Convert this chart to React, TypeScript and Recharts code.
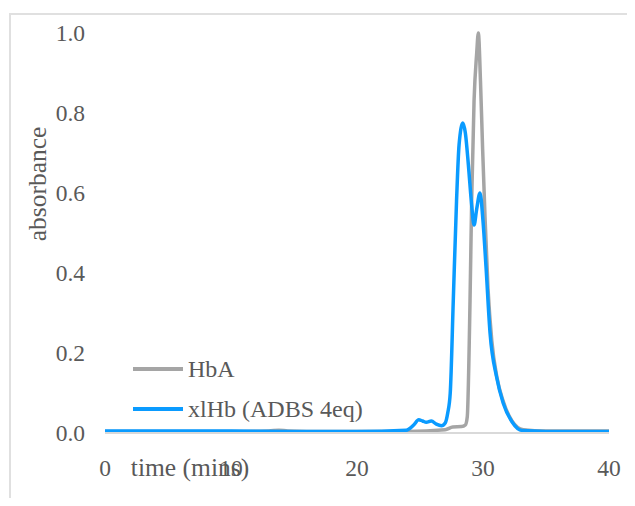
import React from 'react';
import { LineChart, Line, XAxis, YAxis, Legend } from 'recharts';

// Data
const hbaTime = [0, 5, 10, 13, 13.8, 14.5, 16, 20, 24, 27, 27.6, 28.3, 28.6, 28.75, 28.97, 29.1, 29.29, 29.5, 29.63, 29.8, 29.97, 30.16, 30.4, 30.7, 31.1, 31.6, 32.3, 33.2, 35, 40];
const hbaAbs = [0.004, 0.004, 0.004, 0.005, 0.007, 0.005, 0.004, 0.004, 0.004, 0.008, 0.015, 0.016, 0.02, 0.04, 0.33, 0.58, 0.83, 0.95, 1.0, 0.88, 0.71, 0.54, 0.36, 0.23, 0.14, 0.08, 0.03, 0.008, 0.005, 0.005];

const xlhbTime = [0, 5, 10, 15, 20, 23.9, 24.5, 24.9, 25.2, 25.5, 25.9, 26.3, 26.7, 27.0, 27.2, 27.4, 27.64, 27.9, 28.1, 28.4, 28.6, 28.84, 29.1, 29.29, 29.5, 29.76, 30.0, 30.24, 30.56, 31.08, 31.6, 32.3, 33.1, 35, 40];
const xlhbAbs = [0.005, 0.005, 0.005, 0.004, 0.004, 0.007, 0.02, 0.033, 0.03, 0.027, 0.03, 0.022, 0.018, 0.025, 0.05, 0.1, 0.33, 0.58, 0.72, 0.775, 0.75, 0.67, 0.57, 0.52, 0.56, 0.6, 0.53, 0.415, 0.25, 0.14, 0.075, 0.028, 0.006, 0.004, 0.004];

const xTicks = [0, 10, 20, 30, 40];
const yTicks = [0, 0.2, 0.4, 0.6, 0.8, 1.0];

const seriesNames = ['HbA', 'xlHb (ADBS 4eq)'];
const seriesColors = ['#a5a5a5', '#0a9bff'];

const hbaData = hbaTime.map((t, i) => ({ t, v: hbaAbs[i] }));
const xlhbData = xlhbTime.map((t, i) => ({ t, v: xlhbAbs[i] }));

const FONT = '"Liberation Serif", "Times New Roman", serif';
const TEXT = '#595959';
const TICK_SIZE = 23.5;
const TITLE_SIZE = 25.5;
const LEGEND_SIZE = 24;

const renderLegend = () => (
  <div style={{ fontFamily: FONT, fontSize: LEGEND_SIZE, color: TEXT, lineHeight: 1 }}>
    {seriesNames.map((n, i) => (
      <div key={n} style={{ display: 'flex', alignItems: 'center', height: 40 }}>
        <div style={{ width: 50, height: 4, background: seriesColors[i], marginRight: 5 }} />
        <span>{n}</span>
      </div>
    ))}
  </div>
);

const XTick = (props: any) => {
  const { x, y, payload } = props;
  return (
    <text x={x} y={y} dy="0.71em" textAnchor="middle" fill={TEXT} style={{ fontFamily: FONT, fontSize: TICK_SIZE }}>
      {String(payload.value)}
    </text>
  );
};

const YTick = (props: any) => {
  const { x, y, payload } = props;
  return (
    <text x={x} y={y} dy="0.355em" textAnchor="end" fill={TEXT} style={{ fontFamily: FONT, fontSize: TICK_SIZE }}>
      {Number(payload.value).toFixed(1)}
    </text>
  );
};

const xTitle = (props: any) => {
  const vb = props.viewBox || {};
  return (
    <text x={vb.x + 85} y={vb.y + 43} textAnchor="middle" fill={TEXT} style={{ fontFamily: FONT, fontSize: TITLE_SIZE }}>
      time (mins)
    </text>
  );
};

const yTitle = (props: any) => {
  const vb = props.viewBox || {};
  const cx = vb.x - 8;
  const cy = vb.y + 151;
  return (
    <text x={cx} y={cy} transform={`rotate(-90 ${cx} ${cy})`} textAnchor="middle" dominantBaseline="central" fill={TEXT} style={{ fontFamily: FONT, fontSize: TITLE_SIZE }}>
      absorbance
    </text>
  );
};

export default function App() {
  return (
    <div style={{ position: 'relative', width: 627, height: 490 }}>
      <div style={{ position: 'absolute', left: 1, top: 5, width: 626, height: 485, borderTop: '2px solid #e0e0e0', borderLeft: '2px solid #e0e0e0' }} />
      <LineChart width={627} height={490} margin={{ top: 25, right: 26, bottom: 35, left: 37 }} style={{ position: 'absolute', left: 0, top: 0 }}>
        <XAxis
          dataKey="t"
          type="number"
          domain={[0, 40]}
          ticks={xTicks}
          allowDuplicatedCategory={false}
          height={30}
          tickLine={false}
          tickSize={0}
          tickMargin={26}
          axisLine={{ stroke: '#d9d9d9', strokeWidth: 2 }}
          tick={<XTick />}
          label={xTitle}
        />
        <YAxis
          dataKey="v"
          type="number"
          domain={[0, 1]}
          ticks={yTicks}
          width={60}
          axisLine={false}
          tickLine={false}
          tickSize={0}
          tickMargin={20}
          tick={<YTick />}
          label={yTitle}
        />
        <Legend layout="vertical" align="center" verticalAlign="middle" content={renderLegend} wrapperStyle={{ left: 125, top: 341, width: 300, height: 80 }} />
        <Line data={hbaData} dataKey="v" name={seriesNames[0]} type="monotone" stroke={seriesColors[0]} strokeWidth={3.5} dot={false} isAnimationActive={false} />
        <Line data={xlhbData} dataKey="v" name={seriesNames[1]} type="monotone" stroke={seriesColors[1]} strokeWidth={3.5} dot={false} isAnimationActive={false} />
      </LineChart>
    </div>
  );
}
